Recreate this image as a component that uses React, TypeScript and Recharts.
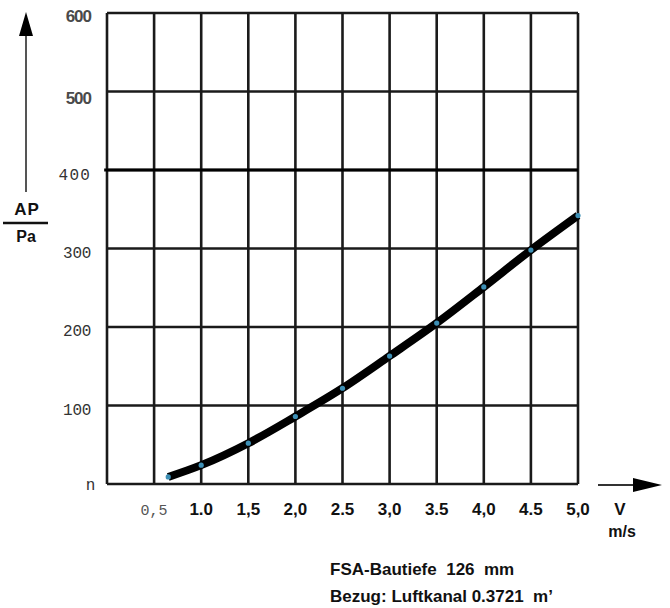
import React from 'react';
import { LineChart, Line, XAxis, YAxis, CartesianGrid, ReferenceLine } from 'recharts';

const velocity = [0.65, 1.0, 1.5, 2.0, 2.5, 3.0, 3.5, 4.0, 4.5, 5.0];
const pressure = [9, 24, 52, 86, 122, 163, 205, 251, 298, 342];

const xTicks = [0, 0.5, 1.0, 1.5, 2.0, 2.5, 3.0, 3.5, 4.0, 4.5, 5.0];
const xTickLabels = ['', '0,5', '1.0', '1,5', '2,0', '2.5', '3,0', '3.5', '4,0', '4.5', '5,0'];
const yTicks = [0, 100, 200, 300, 400, 500, 600];
const yTickLabels = ['n', '100', '200', '300', '400', '500', '600'];

const data = velocity.map((v, i) => ({ v, p: pressure[i] }));

const SANS = 'Liberation Sans, Arial, sans-serif';
const MONO = 'Liberation Mono, DejaVu Sans Mono, monospace';

const XTick = (props: any) => {
  const { x, payload } = props;
  const idx = xTicks.indexOf(payload.value);
  const label = idx >= 0 ? xTickLabels[idx] : '';
  const mono = label === '0,5';
  return (
    <text
      x={x}
      y={515}
      textAnchor="middle"
      fontFamily={mono ? MONO : SANS}
      fontWeight={mono ? 400 : 700}
      fontSize={mono ? 15 : 17}
      fill={mono ? '#555' : '#111'}
    >
      {label}
    </text>
  );
};

const YTick = (props: any) => {
  const { y, payload } = props;
  const idx = yTicks.indexOf(payload.value);
  const label = idx >= 0 ? yTickLabels[idx] : '';
  const v = payload.value;
  const bold = v >= 500;
  let dy = 9;
  if (v === 600) dy = 9;
  if (v === 500) dy = 12;
  if (v === 400) dy = 10;
  if (v === 0) dy = 6;
  return (
    <text
      x={v === 0 ? 95 : 91}
      y={y + dy}
      textAnchor="end"
      fontFamily={bold ? SANS : MONO}
      fontWeight={bold ? 700 : 400}
      fontSize={bold ? 17 : 16}
      fill={bold ? '#4a4a4a' : '#333'}
      letterSpacing={bold ? -1 : v === 400 ? 1.2 : -0.3}
    >
      {label}
    </text>
  );
};

const BlueDot = (props: any) => {
  const { cx, cy } = props;
  return <circle cx={cx} cy={cy} r={2.6} fill="#3d8fb5" />;
};

export default function App() {
  return (
    <div style={{ position: 'absolute', left: 0, top: 0, width: 670, height: 608, background: '#fff' }}>
      <LineChart
        width={670}
        height={608}
        data={data}
        margin={{ top: 13, right: 92, bottom: 94, left: 0 }}
      >
        <CartesianGrid stroke="#1a1a1a" strokeWidth={2.6} />
        <XAxis
          dataKey="v"
          type="number"
          domain={[0, 5]}
          ticks={xTicks}
          tick={<XTick />}
          axisLine={false}
          tickLine={false}
          height={30}
          interval={0}
        />
        <YAxis
          type="number"
          domain={[0, 600]}
          ticks={yTicks}
          tick={<YTick />}
          axisLine={false}
          tickLine={false}
          width={107}
          interval={0}
        />
        <ReferenceLine
          segment={[{ x: -0.03, y: 400 }, { x: 5, y: 400 }]}
          stroke="#000"
          strokeWidth={3}
          ifOverflow="visible"
        />
        <Line
          type="monotone"
          dataKey="p"
          stroke="#000"
          strokeWidth={8}
          dot={<BlueDot />}
          activeDot={false}
          isAnimationActive={false}
        />
      </LineChart>
      <svg
        width={670}
        height={608}
        style={{ position: 'absolute', left: 0, top: 0, pointerEvents: 'none' }}
      >
        <line x1={26} y1={192} x2={26} y2={30} stroke="#555" strokeWidth={2} />
        <polygon points="26,12 19,36 33,36" fill="#000" />
        <text x={27} y={215} textAnchor="middle" fontFamily={SANS} fontWeight={700} fontSize={17} fill="#111" letterSpacing={1}>AP</text>
        <line x1={3} y1={223} x2={48} y2={223} stroke="#111" strokeWidth={2.5} />
        <text x={26} y={242} textAnchor="middle" fontFamily={SANS} fontWeight={700} fontSize={16} fill="#111">Pa</text>
        <line x1={598} y1={485} x2={640} y2={485} stroke="#333" strokeWidth={2} />
        <polygon points="662,485 633,478 633,492" fill="#000" />
        <text x={620} y={515} textAnchor="middle" fontFamily={SANS} fontWeight={700} fontSize={17} fill="#111">V</text>
        <text x={622} y={537} textAnchor="middle" fontFamily={SANS} fontWeight={700} fontSize={16} fill="#111">m/s</text>
        <text x={330} y={575} fontFamily={SANS} fontWeight={700} fontSize={17} fill="#111" style={{ whiteSpace: 'pre' }}>FSA-Bautiefe  126  mm</text>
        <text x={330} y={602} fontFamily={SANS} fontWeight={700} fontSize={17} fill="#111" style={{ whiteSpace: 'pre' }}>Bezug: Luftkanal 0.3721  m’</text>
      </svg>
    </div>
  );
}
